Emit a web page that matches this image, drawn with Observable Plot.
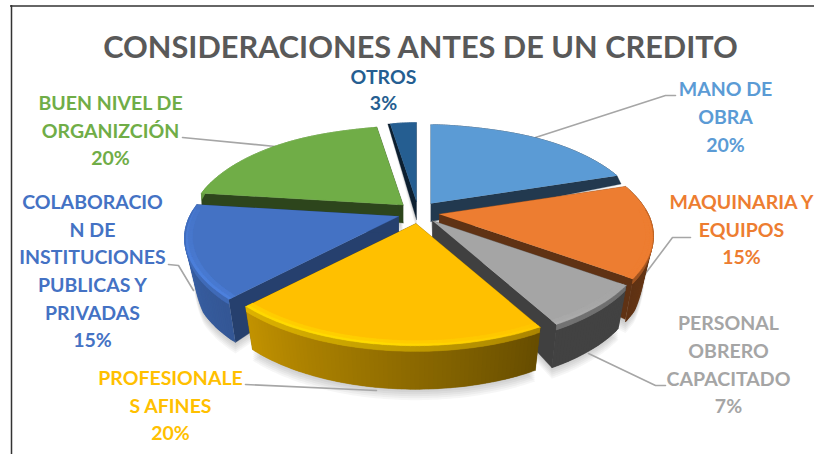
<!DOCTYPE html>
<html><head><meta charset="utf-8">
<script src="https://cdn.jsdelivr.net/npm/d3@7"></script>
<script src="https://cdn.jsdelivr.net/npm/@observablehq/plot@0.6"></script>
<style>
html,body{margin:0;padding:0;background:#fff}
svg{display:block}
</style></head><body><div id="chart"></div>
<script>
// Data
const categories = ["MANO DE OBRA","MAQUINARIA Y EQUIPOS","PERSONAL OBRERO CAPACITADO","PROFESIONALES AFINES","COLABORACION DE INSTITUCIONES PUBLICAS Y PRIVADAS","BUEN NIVEL DE ORGANIZCIÓN","OTROS"];
const values = [20,15,7,20,15,20,3];
const colors = ["#5b9bd5","#ed7d31","#a5a5a5","#ffc000","#4472c4","#70ad47","#255e91"];
const labelColors = colors;
const titleText = "CONSIDERACIONES ANTES DE UN CREDITO";

// Label text as wrapped in the picture
const labelLines = [
  ["MANO DE","OBRA","20%"],
  ["MAQUINARIA Y","EQUIPOS","15%"],
  ["PERSONAL","OBRERO","CAPACITADO","7%"],
  ["PROFESIONALE","S AFINES","20%"],
  ["COLABORACIO","N DE","INSTITUCIONES","PUBLICAS Y","PRIVADAS","15%"],
  ["BUEN NIVEL DE","ORGANIZCIÓN","20%"],
  ["OTROS","3%"]
];
// Annotation layout (label block centre x, first line y, line step)
const labelLayout = [[725,89.5,28],[741,202.5,27.5],[728,323.5,27.7],[170,378.5,27.5],[92,202.5,27.6],[110,103.5,27.5],[383,77.5,26]];
const leaderPaths = [
  [[535,137],[665,95],[675,95]],
  [[645,273],[672,237],[690,237]],
  [[588,353],[655,385],[665,385]],
  [[245,384],[376,390]],
  [[168,264],[178,265],[193,290]],
  [[182,137],[275,146]]
];

// Projection of the tilted pie
const center = [418,212], explode = [21,11];
const A = 209, B = 96, K = 0.218;
const total = d3.sum(values);
const rad = d => d*Math.PI/180;
let acc = 0;
const slices = values.map((v,i)=>{
  const a0 = acc/total*360; acc += v; const a1 = acc/total*360;
  const m = rad((a0+a1)/2);
  return {i,a0,a1,color:colors[i],ax:center[0]+explode[0]*Math.sin(m),ay:center[1]-explode[1]*Math.cos(m)};
});
const off = (t,r=1)=>{
  const s=Math.sin(rad(t)),c=Math.cos(rad(t)),w=1+K*r*c;
  const squeeze=1-0.25*Math.pow(Math.max(0,c),16);
  return [A*r*s/w*squeeze,-B*r*c/w];
};
const topPt = (S,t,r=1)=>{const [dx,dy]=off(t,r);return [S.ax+dx,S.ay+dy];};
const rimH = dy => Math.max(0,Math.min(43,(dy+25)*0.55));
const rimBottom = (S,t)=>{const [dx,dy]=off(t);const s=1-0.04*Math.max(0,Math.min(1,dy/30));return [S.ax+s*dx,S.ay+dy+rimH(dy)];};
const faceBottom = (S,t)=>{const [dx,dy]=off(t);const s=Math.max(0.96,0.98-0.0015*dy);return [S.ax+s*dx,S.ay+dy+Math.max(0,Math.min(43,18+0.35*dy))];};
const stops = [[0,.6],[72,.5],[126,.4],[151,.4],[223,.76],[277,.9],[360,.9]];
const shade = d3.scaleLinear(stops.map(d=>d[0]),stops.map(d=>d[1]));
const hiStops = d3.scaleLinear([0,130,190,240,285,360],[0,0,.3,.25,.05,0]).clamp(true);
const faceShade = [.37,.40,.39,.40,.56,.40,.33];

const polys = [];
let pid = 0;
const add = (pts,c)=>{const id=pid++;pts.forEach(p=>polys.push({x:p[0],y:p[1],id,c}));};
const mix = (c1,c2,t)=>d3.interpolateRgb(c1,c2)(t);
const steps = (a,b,st)=>{const n=Math.max(1,Math.ceil((b-a)/st));return d3.range(n+1).map(j=>a+(b-a)*j/n);};

// Soft shadow: a stack of faint silhouettes under the pie
const shadowPts = [];
const shadowOffsets = [1,3,5,7,9,11];
let sid = 0;
const order = [6,0,5,1,4,2,3];
for (const i of order){
  const S = slices[i], base = S.color;
  const sh = steps(S.a0,S.a1,1);
  const apexB = [S.ax,S.ay+18];
  for (const o of shadowOffsets){
    const id = sid++;
    shadowPts.push({x:apexB[0],y:apexB[1]+o,id});
    sh.forEach(t=>{const p=rimBottom(S,t);shadowPts.push({x:p[0],y:p[1]+o,id});});
  }
  // cut faces
  const fc = d3.interpolateRgb("#000",base)(faceShade[i]);
  for (const t of [S.a0,S.a1]) add([[S.ax,S.ay],topPt(S,t),faceBottom(S,t),apexB],fc);
  // outer wall (each piece overlaps the next so that no seams show)
  for (let j=0;j<sh.length-1;j++){
    const t=(sh[j]+sh[j+1])/2, wc=d3.interpolateRgb("#000",base)(shade(t));
    const e=sh[Math.min(j+2,sh.length-1)];
    const mids=[sh[j],sh[j+1],e];
    add([...mids.map(u=>topPt(S,u)),...mids.slice().reverse().map(u=>rimBottom(S,u))],wc);
  }
  // top face
  add([[S.ax,S.ay],...sh.map(t=>topPt(S,t))],base);
  // rounded edge
  for (let j=0;j<sh.length-1;j++){
    const t=(sh[j]+sh[j+1])/2,[,dy]=off(t);
    if (dy<-5) continue;
    const e=sh[Math.min(j+2,sh.length-1)];
    const arc=r=>[sh[j],sh[j+1],e].map(u=>topPt(S,u,r));
    const h=hiStops(t), bright=d3.rgb(base).brighter(1.1);
    const wc=d3.interpolateRgb("#000",base)(shade(t));
    const lit=mix(base,bright,h);
    add([...arc(.985),...arc(.965).reverse()],mix(base,lit,.5));
    add([...arc(1),...arc(.985).reverse()],lit);
    const l=(u,v,f)=>[u[0]+(v[0]-u[0])*f,u[1]+(v[1]-u[1])*f];
    const low=[sh[j],sh[j+1],e].map(u=>l(topPt(S,u),rimBottom(S,u),.12));
    add([...arc(1),...low.reverse()],mix(lit,wc,.55));
  }
}

const textRows = labelLines.flatMap((lines,i)=>lines.map((s,j)=>({
  s,x:labelLayout[i][0],y:labelLayout[i][1]+j*labelLayout[i][2],c:labelColors[i]
})));
const leaderRows = leaderPaths.flatMap((p,id)=>p.map(q=>({x:q[0],y:q[1],id})));

const chart = Plot.plot({
  width:814,height:454,margin:0,
  x:{domain:[0,814],range:[0,814],axis:null},
  y:{domain:[0,454],range:[0,454],axis:null},
  color:{type:"identity"},
  style:{background:"#fff",fontFamily:"Lato, sans-serif"},
  marks:[
    Plot.ruleY([5.5],{x1:10,x2:814,stroke:"#333",strokeWidth:1.5}),
    Plot.ruleX([11],{y1:5,y2:454,stroke:"#333",strokeWidth:1.5}),
    Plot.line(shadowPts,{x:"x",y:"y",z:"id",fill:"#000",fillOpacity:.035,stroke:"#000",strokeOpacity:0,curve:"linear"}),
    Plot.line(leaderRows,{x:"x",y:"y",z:"id",stroke:"#a6a6a6",strokeWidth:1.6,curve:"linear"}),
    Plot.line(polys,{x:"x",y:"y",z:"id",fill:"c",stroke:"c",strokeWidth:.3,curve:"linear"}),
    Plot.text([titleText],{x:()=>420,y:()=>48,text:d=>d,fontSize:30.7,fontWeight:700,fill:"#595959",fontFamily:"Lato, sans-serif"}),
    Plot.text(textRows,{x:"x",y:"y",text:"s",fill:"c",fontSize:19.5,fontWeight:700,fontFamily:"Lato, sans-serif"})
  ]
});
document.getElementById("chart").append(chart);
</script></body></html>
